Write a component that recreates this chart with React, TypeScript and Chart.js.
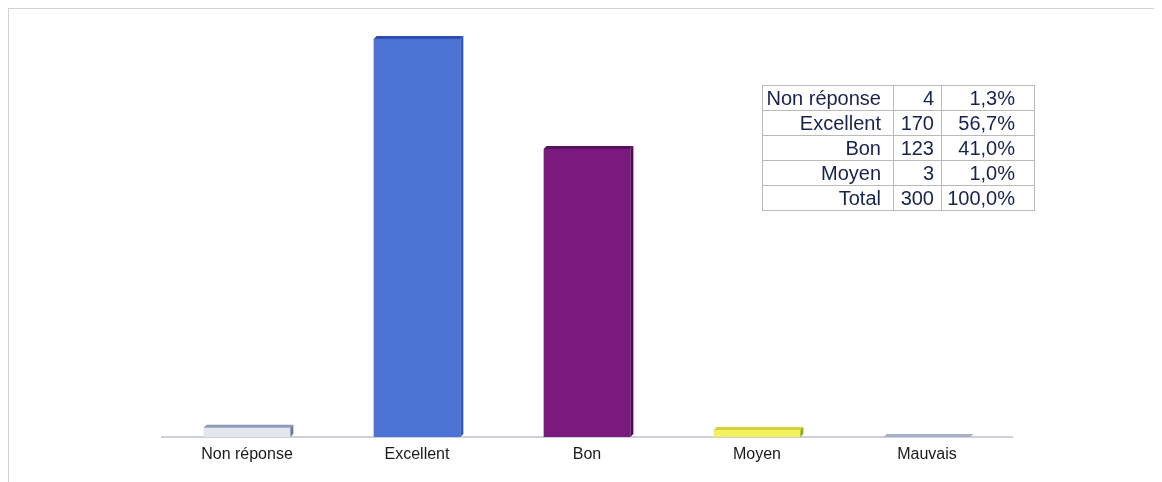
import { useEffect, useRef } from 'react';
import { Chart, registerables } from 'chart.js';

Chart.register(...registerables);

// Survey answers and their counts
const categories = ['Non réponse', 'Excellent', 'Bon', 'Moyen', 'Mauvais'];
const counts = [4, 170, 123, 3, 0];

// Summary table rows (Mauvais has no answers and is not listed)
const tableLabels = ['Non réponse', 'Excellent', 'Bon', 'Moyen'];
const tableCounts = [4, 170, 123, 3];
const totalLabel = 'Total';

// Bar face colours: front, top and right side of each pseudo-3D column
const frontColors = ['#e2e6ef', '#4c72d6', '#7b1a7e', '#f2f25e', '#c9d0e2'];
const topColors = ['#8f99b6', '#2f4fb0', '#570f5e', '#d2d23c', '#a7b1ca'];
const sideColors = ['#6f7a98', '#3454b8', '#4a0b50', '#93a52c', '#8f9ab5'];

const DEPTH = 3;

const formatPct = (v: number, total: number) =>
  ((v / total) * 100).toFixed(1).replace('.', ',') + '%';

// Draws a thin top face and right side on every bar to give a 3D look
const columnDepth = {
  id: 'columnDepth',
  afterDatasetsDraw(chart: any) {
    const ctx = chart.ctx;
    const meta = chart.getDatasetMeta(0);
    meta.data.forEach((bar: any, i: number) => {
      const { x, y, base, width } = bar.getProps(['x', 'y', 'base', 'width'], true);
      const left = x - width / 2;
      const right = x + width / 2;
      ctx.save();
      // top face
      ctx.fillStyle = topColors[i];
      ctx.beginPath();
      ctx.moveTo(left, y);
      ctx.lineTo(left + DEPTH, y - DEPTH);
      ctx.lineTo(right + DEPTH, y - DEPTH);
      ctx.lineTo(right, y);
      ctx.closePath();
      ctx.fill();
      // right side face
      ctx.fillStyle = sideColors[i];
      ctx.beginPath();
      ctx.moveTo(right, y);
      ctx.lineTo(right + DEPTH, y - DEPTH);
      ctx.lineTo(right + DEPTH, base - DEPTH);
      ctx.lineTo(right, base);
      ctx.closePath();
      ctx.fill();
      ctx.restore();
    });
  },
};

export default function App() {
  const canvasRef = useRef<HTMLCanvasElement | null>(null);
  const total = tableCounts.reduce((a, b) => a + b, 0);

  useEffect(() => {
    if (!canvasRef.current) return;
    const chart = new Chart(canvasRef.current, {
      type: 'bar',
      data: {
        labels: categories,
        datasets: [
          {
            data: counts,
            backgroundColor: frontColors,
            borderWidth: 0,
            barPercentage: 0.51,
            categoryPercentage: 1,
            clip: false,
          } as any,
        ],
      },
      options: {
        animation: false,
        responsive: false,
        maintainAspectRatio: false,
        layout: { padding: { left: 153, right: 150, top: 30, bottom: 0 } },
        plugins: {
          legend: { display: false },
          tooltip: { enabled: false },
        },
        scales: {
          x: {
            grid: { display: false, drawTicks: false },
            border: { display: true, color: '#cdd0d6', width: 2 },
            ticks: {
              color: '#1a1a1a',
              padding: 8,
              font: { family: "'Liberation Sans', Arial, sans-serif", size: 16 },
              maxRotation: 0,
              autoSkip: false,
            },
            afterFit: (scale: any) => {
              scale.height = 45;
            },
          },
          y: {
            display: false,
            min: 0,
            max: 170,
          },
        },
      },
      plugins: [columnDepth],
    });
    return () => chart.destroy();
  }, []);

  const cell: React.CSSProperties = {
    border: '1px solid #b9b9b9',
    padding: 0,
    height: 24,
    lineHeight: '24px',
    textAlign: 'right',
    whiteSpace: 'nowrap',
  };

  const rows = [
    ...tableLabels.map((l, i) => [l, String(tableCounts[i]), formatPct(tableCounts[i], total)]),
    [totalLabel, String(total), formatPct(total, total)],
  ];

  return (
    <div
      style={{
        position: 'relative',
        width: 1153,
        height: 473,
        borderTop: '1px solid #d2d2d2',
        borderLeft: '1px solid #d2d2d2',
        background: '#ffffff',
      }}
    >
      <canvas ref={canvasRef} width={1153} height={473} style={{ display: 'block' }} />
      <table
        style={{
          position: 'absolute',
          left: 753,
          top: 76,
          borderCollapse: 'collapse',
          fontFamily: "'Liberation Sans', Arial, sans-serif",
          fontSize: 20,
          color: '#17224f',
          tableLayout: 'fixed',
        }}
      >
        <colgroup>
          <col style={{ width: 131 }} />
          <col style={{ width: 48 }} />
          <col style={{ width: 93 }} />
        </colgroup>
        <tbody>
          {rows.map((r, i) => (
            <tr key={i}>
              <td style={{ ...cell, paddingRight: 12 }}>{r[0]}</td>
              <td style={{ ...cell, paddingRight: 7 }}>{r[1]}</td>
              <td style={{ ...cell, paddingRight: 19 }}>{r[2]}</td>
            </tr>
          ))}
        </tbody>
      </table>
    </div>
  );
}
